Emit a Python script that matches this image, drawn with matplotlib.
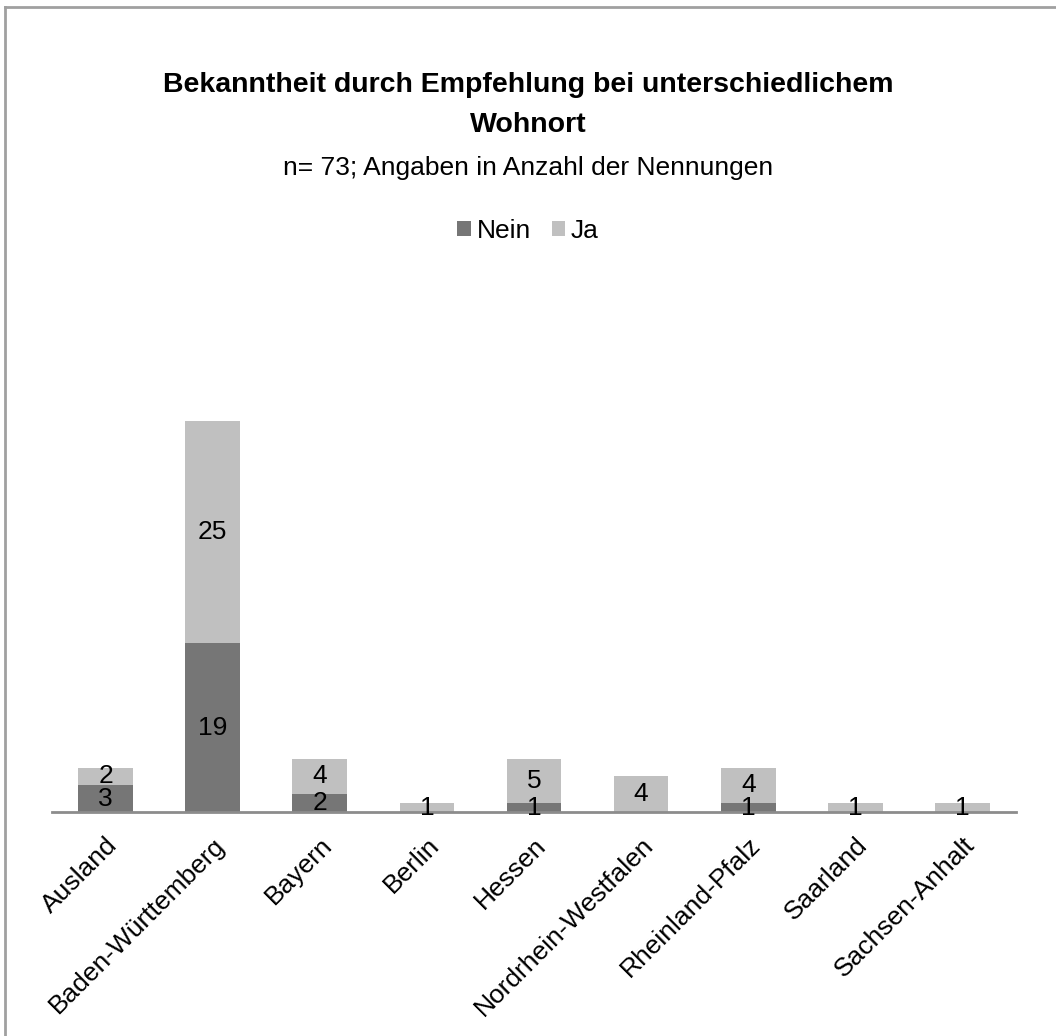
import numpy as np
import matplotlib.pyplot as plt
from matplotlib.lines import Line2D

plt.rcParams['font.family'] = ['Liberation Sans', 'DejaVu Sans']

laender = ['Ausland', 'Baden-Württemberg', 'Bayern', 'Berlin', 'Hessen',
           'Nordrhein-Westfalen', 'Rheinland-Pfalz', 'Saarland', 'Sachsen-Anhalt']
nein = [3, 19, 2, 0, 1, 0, 1, 0, 0]
ja = [2, 25, 4, 1, 5, 4, 4, 1, 1]

farbe_nein = '#767676'
farbe_ja = '#c0c0c0'
fs = 19

W, H = 1056, 1036
fig = plt.figure(figsize=(W / 100, H / 100), dpi=100)
ax = fig.add_axes([52 / W, (H - 812) / H, (1016 - 52) / W, (812 - 367.5) / H])

x = np.arange(len(laender))
b1 = ax.bar(x, nein, width=0.51, color=farbe_nein, label='Nein')
b2 = ax.bar(x, ja, width=0.51, bottom=nein, color=farbe_ja, label='Ja')

# Werte mittig in die Segmente schreiben (Nullwerte weglassen)
for bars, werte in ((b1, nein), (b2, ja)):
    for rect, w in zip(bars, werte):
        if w == 0:
            continue
        ax.text(rect.get_x() + rect.get_width() / 2,
                rect.get_y() + rect.get_height() / 2, str(w),
                ha='center', va='center', fontsize=fs, color='black')

ax.set_xlim(-0.5, len(laender) - 0.5)
ax.set_ylim(0, 50)
ax.set_yticks([])
for s in ('top', 'right', 'left'):
    ax.spines[s].set_visible(False)
ax.spines['bottom'].set_color('#8c8c8c')
ax.spines['bottom'].set_linewidth(2)
ax.set_xticks(x)
ax.set_xticklabels(laender, rotation=45, ha='right', rotation_mode='anchor',
                   fontsize=fs)
ax.tick_params(axis='x', length=0, pad=15)

fig.text(0.5, 1 - 85 / H, 'Bekanntheit durch Empfehlung bei unterschiedlichem',
         ha='center', va='center', fontsize=20.5, fontweight='bold')
fig.text(0.5, 1 - 125 / H, 'Wohnort',
         ha='center', va='center', fontsize=20.5, fontweight='bold')
fig.text(0.5, 1 - 168 / H, 'n= 73; Angaben in Anzahl der Nennungen',
         ha='center', va='center', fontsize=fs)

fig.legend(handles=[b1, b2], labels=['Nein', 'Ja'], loc='center',
           bbox_to_anchor=(0.5, 1 - 231 / H), ncol=2, frameon=False,
           fontsize=fs, handlelength=0.5, handleheight=0.5,
           handletextpad=0.22, columnspacing=0.8)

# Rahmen um das Diagramm
fig.add_artist(Line2D([5 / W, 5 / W], [0, 1 - 7 / H], transform=fig.transFigure,
                      color='#a0a0a0', lw=2))
fig.add_artist(Line2D([5 / W, 1], [1 - 7 / H, 1 - 7 / H], transform=fig.transFigure,
                      color='#a0a0a0', lw=2))

fig.savefig('out.png', dpi=100, facecolor='white')
